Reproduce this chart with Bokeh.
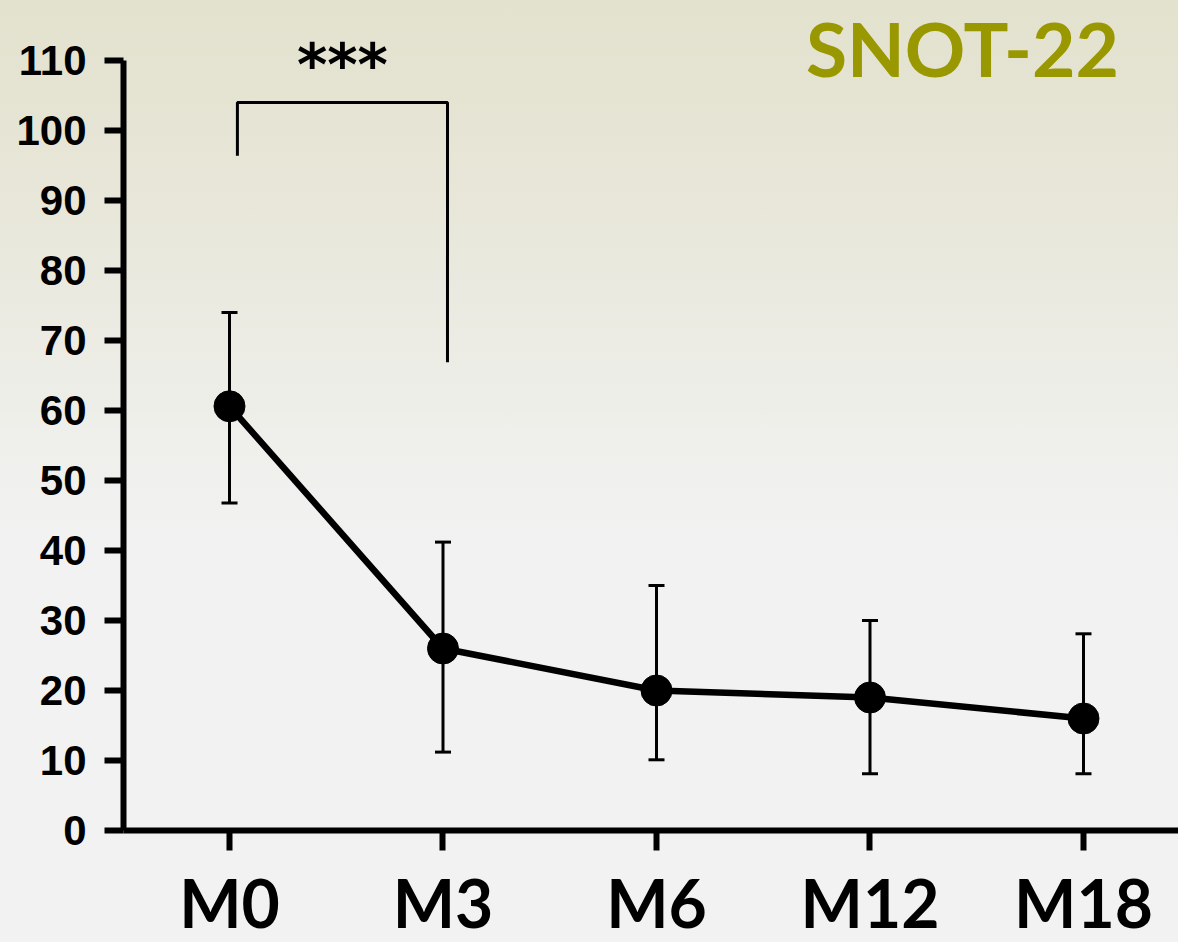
from bokeh.plotting import figure
from bokeh.models import (ColumnDataSource, FixedTicker, Whisker, TeeHead,
                          GlobalInlineStyleSheet, Range1d)
from bokeh.core.properties import value
from bokeh.embed import file_html
from bokeh.resources import INLINE

# ---- data ----
categories = ["M0", "M3", "M6", "M12", "M18"]
means = [60.6, 26.0, 20.0, 19.0, 16.0]
upper = [74.0, 41.2, 35.0, 30.0, 28.1]
lower = [46.8, 11.2, 10.1, 8.1, 8.1]
y_ticks = [0, 10, 20, 30, 40, 50, 60, 70, 80, 90, 100, 110]
title_text = "SNOT-22"
sig_text = "***"
bracket_x = [0.037, 1.021]
bracket_top = 104.0
bracket_left_bottom = 96.4
bracket_right_bottom = 66.9

xs = list(range(len(categories)))
src = ColumnDataSource(dict(x=xs, mean=means, upper=upper, lower=lower))

bg = GlobalInlineStyleSheet(css="""
html, body { background: linear-gradient(to bottom, #e3e2ce 0%, #e7e6d8 20%, #edede7 40%, #f2f2f2 58%, #f2f2f2 100%) fixed; }
""")

p = figure(frame_width=1055, frame_height=830,
           min_border_left=123, min_border_right=0, min_border_top=0, min_border_bottom=112,
           x_range=Range1d(-0.4965, 4.445), y_range=Range1d(0, 118.57),
           output_backend="svg", toolbar_location=None)
p.stylesheets = [bg]
p.background_fill_alpha = 0
p.border_fill_alpha = 0
p.outline_line_color = None
p.grid.visible = False

# y axis
ya = p.yaxis[0]
ya.ticker = FixedTicker(ticks=y_ticks)
ya.bounds = (0, 110)
ya.axis_line_width = 6
ya.major_tick_line_width = 6
ya.major_tick_out = 19
ya.major_tick_in = 0
ya.minor_tick_line_color = None
ya.major_label_standoff = 18
ya.major_label_text_font = "Liberation Sans"
ya.major_label_text_font_style = "bold"
ya.major_label_text_font_size = "42px"
ya.major_label_text_color = "black"

# x axis
xa = p.xaxis[0]
xa.ticker = FixedTicker(ticks=xs)
xa.major_label_overrides = {i: c for i, c in enumerate(categories)}
xa.axis_line_width = 6
xa.major_tick_line_width = 6
xa.major_tick_out = 20
xa.major_tick_in = 0
xa.minor_tick_line_color = None
xa.major_label_standoff = 12
xa.major_label_text_font = "Lato"
xa.major_label_text_font_style = "bold"
xa.major_label_text_font_size = "66px"
xa.major_label_text_color = "black"

# error bars
wh = Whisker(source=src, base="x", upper="upper", lower="lower",
             line_width=3, line_color="black",
             upper_head=TeeHead(size=16, line_width=3, line_color="black"),
             lower_head=TeeHead(size=16, line_width=3, line_color="black"),
             level="underlay")
p.add_layout(wh)

p.line("x", "mean", source=src, line_width=6.5, line_color="black")
p.scatter("x", "mean", source=src, size=31, fill_color="black", line_color="black")

# significance bracket
bx = [bracket_x[0], bracket_x[0], bracket_x[1], bracket_x[1]]
by = [bracket_left_bottom, bracket_top, bracket_top, bracket_right_bottom]
p.line(bx, by, line_width=3, line_color="black")
p.text(x=[sum(bracket_x) / 2], y=[109.3], text=[sig_text],
       text_align="center", text_baseline="middle",
       text_font=value("DejaVu Sans"), text_font_style="bold",
       text_font_size="58px", text_color="black")

# title
p.text(x=[3.433], y=[111.85], text=[title_text], text_align="center", text_baseline="middle",
       text_font=value("Lato"), text_font_style="bold", text_font_size="75px",
       text_color="#9a9800")

open("out.html", "w").write(file_html(p, INLINE))
